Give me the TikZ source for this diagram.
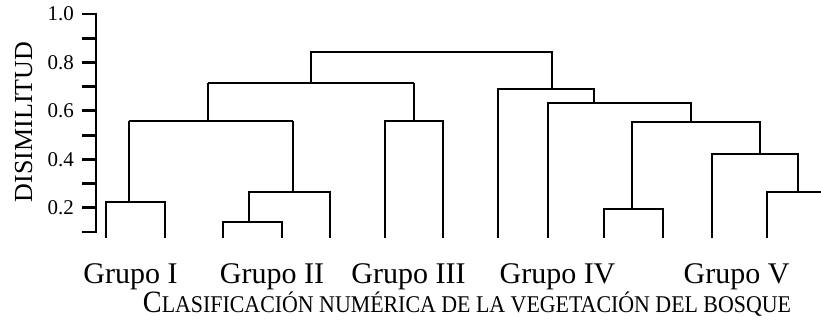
\documentclass[tikz,border=0pt]{standalone}
\usepackage{fontspec}
\setmainfont{Liberation Serif}
\usepackage{graphicx}
\begin{document}
\begin{tikzpicture}[x=1pt,y=-1pt,
  tree/.style={line width=2.8pt,line join=miter,line cap=butt},
  axisline/.style={line width=2.8pt,line cap=butt},
  ticklab/.style={anchor=east,inner sep=0pt,font=\fontsize{21}{25}\selectfont},
  grouplab/.style={anchor=base,inner sep=0pt,font=\fontsize{30}{36}\selectfont},
  ylab/.style={anchor=base,inner sep=0pt,rotate=90,font=\fontsize{26}{30}\selectfont},
  caplab/.style={anchor=base,inner sep=0pt}]
\useasboundingbox (0,0) rectangle (821,326);
\clip (0,0) rectangle (821,326);
% axis
\draw[axisline] (96,13) -- (96,233);
\foreach \k in {0,...,9} {
  \draw[axisline] (82,{14+24.22*\k}) -- (96,{14+24.22*\k});
}
\node[ticklab] (t10) at (74,{14}) {1.0};
\node[ticklab] (t08) at (74,{14+24.22*2}) {0.8};
\node[ticklab] (t06) at (74,{14+24.22*4}) {0.6};
\node[ticklab] (t04) at (74,{14+24.22*6}) {0.4};
\node[ticklab] (t02) at (74,{14+24.22*8}) {0.2};
\node[ylab] (yl) at (32,122) {DISIMILITUD};
% dendrogram
\draw[tree] (106,238) |- (165,202) -- (165,238);
\draw[tree] (129,202) -- (129,121);
\draw[tree] (223,238) |- (282,222) -- (282,238);
\draw[tree] (249,222) -- (249,192) -- (330,192) -- (330,238);
\draw[tree] (293,192) -- (293,121);
\draw[tree] (129,121) -- (293,121);
\draw[tree] (208,121) -- (208,83);
\draw[tree] (385,238) |- (443,121) -- (443,238);
\draw[tree] (414,121) -- (414,83);
\draw[tree] (208,83) -- (414,83);
\draw[tree] (311,83) -- (311,52) -- (552,52) -- (552,89);
\draw[tree] (498,238) |- (594,89) -- (594,103);
\draw[tree] (548,238) |- (691,103) -- (691,122);
\draw[tree] (632,209) |- (760,122) -- (760,154);
\draw[tree] (604,238) |- (663,209) -- (663,238);
\draw[tree] (712,238) |- (798,154) -- (798,192);
\draw[tree] (767,238) |- (835,192) -- (835,238);
% labels
\node[grouplab] (g1) at (130.5,283) {Grupo I};
\node[grouplab] (g2) at (272,283) {Grupo II};
\node[grouplab] (g3) at (408.5,283) {Grupo III};
\node[grouplab] (g4) at (557.5,283) {Grupo IV};
\node[grouplab] (g5) at (736.5,283) {Grupo V};
\node[caplab] (cap) at (467,312) {\scalebox{0.912}[1]{{\fontsize{31}{34}\selectfont C}{\fontsize{24}{28}\selectfont LASIFICACIÓN NUMÉRICA DE LA VEGETACIÓN DEL BOSQUE}}};
\end{tikzpicture}
\end{document}
